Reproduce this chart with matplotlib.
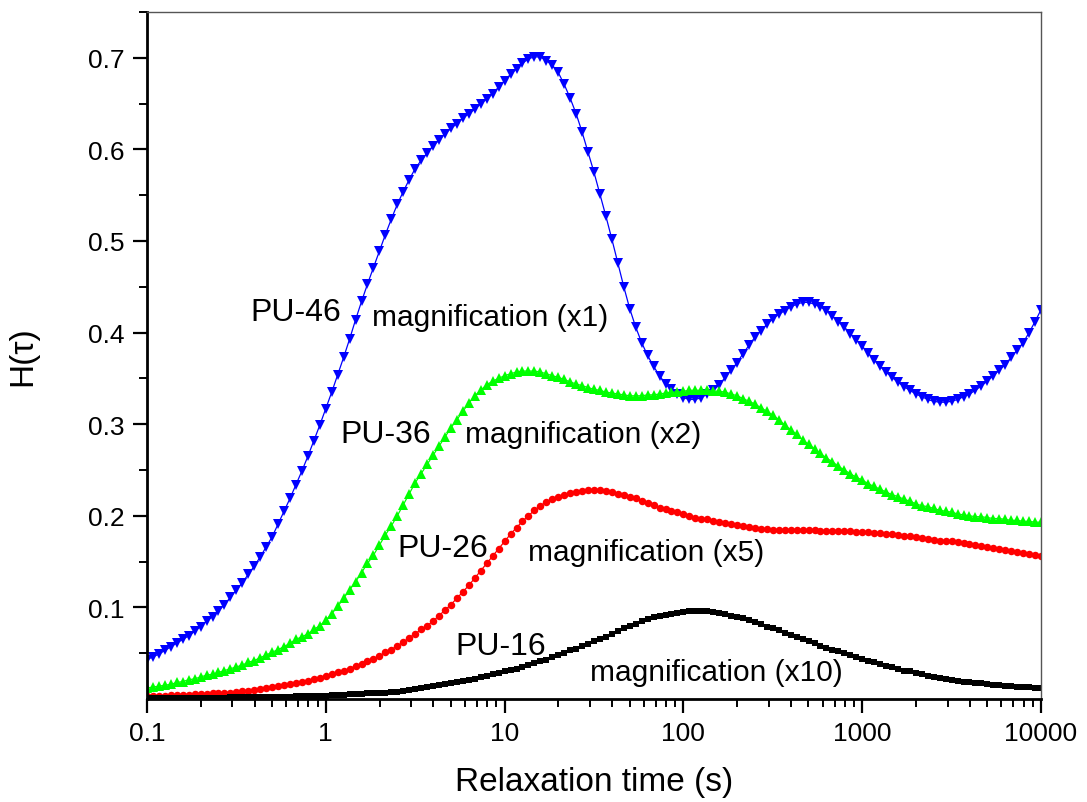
import numpy as np
import matplotlib
matplotlib.use("Agg")
import matplotlib.pyplot as plt
import matplotlib.ticker as mticker

plt.rcParams['font.family'] = ['Liberation Sans', 'DejaVu Sans']

# relaxation time grid: 30 points per decade, 0.1 .. 10000 s
tau = np.logspace(-1, 4, 151)

# H(tau), already multiplied by the magnification factor shown on the chart
pu46 = [
    .043, .046, .049, .053, .057, .061, .065, .069, .074, .079,
    .085, .090, .096, .103, .111, .119, .127, .136, .145, .155,
    .166, .177, .191, .205, .219, .234, .249, .265, .282, .299,
    .317, .335, .354, .373, .393, .414, .434, .453, .471, .489,
    .507, .524, .540, .554, .567, .579, .588, .596, .604, .610,
    .617, .623, .628, .634, .639, .644, .650, .655, .661, .668,
    .675, .682, .688, .694, .699, .701, .701, .697, .692, .684,
    .671, .656, .639, .619, .597, .575, .551, .527, .502, .476,
    .450, .426, .406, .389, .375, .363, .353, .344, .338, .333,
    .329, .327, .327, .329, .333, .337, .343, .351, .359, .367,
    .377, .386, .395, .402, .409, .415, .420, .424, .428, .431,
    .433, .433, .431, .428, .424, .418, .412, .406, .399, .392,
    .385, .378, .370, .363, .357, .351, .346, .341, .337, .333,
    .330, .327, .325, .324, .324, .325, .327, .330, .333, .337,
    .342, .347, .353, .359, .365, .373, .381, .389, .400, .412,
    .425,
]
pu36 = [
    .012, .013, .014, .015, .016, .018, .019, .021, .022, .024,
    .026, .027, .029, .031, .033, .035, .037, .040, .042, .045,
    .048, .051, .054, .057, .061, .065, .068, .071, .076, .080,
    .086, .093, .101, .110, .119, .128, .138, .148, .157, .168,
    .179, .189, .200, .212, .224, .236, .246, .256, .266, .276,
    .286, .296, .305, .314, .323, .331, .337, .343, .347, .350,
    .353, .355, .357, .358, .358, .358, .357, .355, .353, .351,
    .349, .346, .344, .342, .340, .338, .337, .335, .334, .333,
    .332, .331, .331, .331, .332, .332, .333, .334, .335, .335,
    .336, .337, .337, .337, .337, .336, .336, .335, .333, .331,
    .328, .325, .322, .318, .314, .310, .305, .299, .294, .289,
    .283, .278, .273, .268, .263, .259, .254, .250, .246, .242,
    .239, .235, .232, .229, .226, .223, .221, .218, .216, .213,
    .211, .210, .208, .206, .205, .204, .202, .201, .200, .199,
    .199, .198, .197, .197, .196, .195, .195, .194, .194, .193,
    .193,
]
pu26 = [
    .003, .003, .003, .003, .004, .004, .004, .004, .005, .005,
    .005, .006, .006, .007, .007, .008, .009, .009, .010, .011,
    .012, .013, .014, .015, .016, .017, .019, .020, .022, .023,
    .025, .027, .029, .031, .033, .036, .038, .041, .044, .047,
    .051, .054, .058, .062, .067, .071, .076, .080, .085, .091,
    .097, .103, .110, .117, .124, .132, .140, .148, .156, .164,
    .172, .180, .187, .194, .200, .206, .211, .215, .218, .221,
    .223, .225, .226, .227, .228, .228, .228, .227, .226, .224,
    .223, .221, .219, .216, .214, .212, .209, .207, .205, .204,
    .202, .200, .198, .197, .196, .194, .193, .192, .191, .190,
    .189, .188, .187, .186, .186, .185, .185, .184, .184, .184,
    .184, .184, .184, .183, .183, .183, .183, .183, .183, .182,
    .182, .182, .181, .181, .180, .180, .179, .178, .178, .177,
    .176, .175, .174, .173, .173, .172, .171, .170, .169, .168,
    .167, .166, .165, .164, .163, .162, .160, .159, .158, .157,
    .156,
]
pu16 = [
    .001, .001, .001, .001, .001, .001, .001, .001, .001, .001,
    .001, .001, .001, .001, .002, .002, .002, .002, .002, .002,
    .002, .002, .002, .002, .002, .003, .003, .003, .003, .003,
    .003, .004, .004, .004, .005, .005, .005, .006, .006, .007,
    .007, .008, .008, .009, .010, .011, .012, .013, .014, .015,
    .016, .017, .018, .020, .021, .022, .024, .025, .027, .028,
    .030, .032, .033, .035, .037, .039, .041, .043, .046, .048,
    .050, .053, .055, .058, .060, .063, .066, .068, .071, .074,
    .077, .080, .082, .085, .087, .089, .091, .092, .093, .094,
    .095, .096, .096, .096, .096, .095, .094, .093, .091, .090,
    .088, .086, .084, .082, .079, .077, .075, .072, .070, .068,
    .065, .063, .061, .058, .056, .054, .052, .050, .048, .046,
    .044, .042, .040, .038, .036, .035, .033, .031, .030, .028,
    .027, .025, .024, .023, .022, .021, .020, .019, .018, .017,
    .017, .016, .015, .015, .014, .014, .013, .013, .013, .012,
    .012,
]

series = [
    (pu46, 'v', (0, 0, 1), 7.0),
    (pu36, '^', (0, 1, 0), 7.0),
    (pu26, 'o', (1, 0, 0), 5.4),
    (pu16, 's', (0, 0, 0), 4.6),
]

# (text, tau, H) for the in-plot labels
labels = [
    ("PU-46", 0.377, 0.422, 23),
    ("magnification (x1)", 1.81, 0.417, 21.5),
    ("PU-36", 1.20, 0.289, 23),
    ("magnification (x2)", 6.0, 0.289, 21.5),
    ("PU-26", 2.50, 0.165, 23),
    ("magnification (x5)", 13.5, 0.161, 21.5),
    ("PU-16", 5.28, 0.058, 23),
    ("magnification (x10)", 30.1, 0.029, 21.5),
]

fig = plt.figure(figsize=(10.87, 8.03), dpi=100)
ax = fig.add_axes([0.1352, 0.1283, 0.8225, 0.8555])

for y, mk, col, ms in series:
    ax.plot(tau, y, marker=mk, color=col, markersize=ms, linewidth=0.9,
            markeredgewidth=0)

for txt, x, y, fs in labels:
    ax.text(x, y, txt, fontsize=fs, ha='left', va='center')

ax.set_xscale('log')
ax.set_xlim(0.1, 10000)
ax.set_ylim(0, 0.75)
ax.xaxis.set_major_locator(mticker.FixedLocator([0.1, 1, 10, 100, 1000, 10000]))
ax.xaxis.set_major_formatter(mticker.FuncFormatter(lambda v, p: '%g' % v))
ax.xaxis.set_minor_locator(mticker.LogLocator(base=10, subs=np.arange(2, 10)))
ax.xaxis.set_minor_formatter(mticker.NullFormatter())
ax.yaxis.set_major_locator(mticker.FixedLocator([0.1, 0.2, 0.3, 0.4, 0.5, 0.6, 0.7]))
ax.yaxis.set_minor_locator(mticker.FixedLocator([0.05, 0.15, 0.25, 0.35, 0.45, 0.55, 0.65, 0.75]))

ax.tick_params(which='major', direction='out', length=10, width=1.6,
               labelsize=19, pad=6)
ax.tick_params(which='minor', direction='out', length=5.5, width=1.4)
ax.tick_params(top=False, right=False, which='both')

for s in ['left', 'bottom']:
    ax.spines[s].set_linewidth(2.0)
for s in ['top', 'right']:
    ax.spines[s].set_linewidth(1.0)
    ax.spines[s].set_color('#555555')

ax.set_xlabel('Relaxation time (s)', fontsize=24, labelpad=15)
ax.set_ylabel('H(τ)', fontsize=24, labelpad=36)

fig.savefig('out.png', dpi=100)
